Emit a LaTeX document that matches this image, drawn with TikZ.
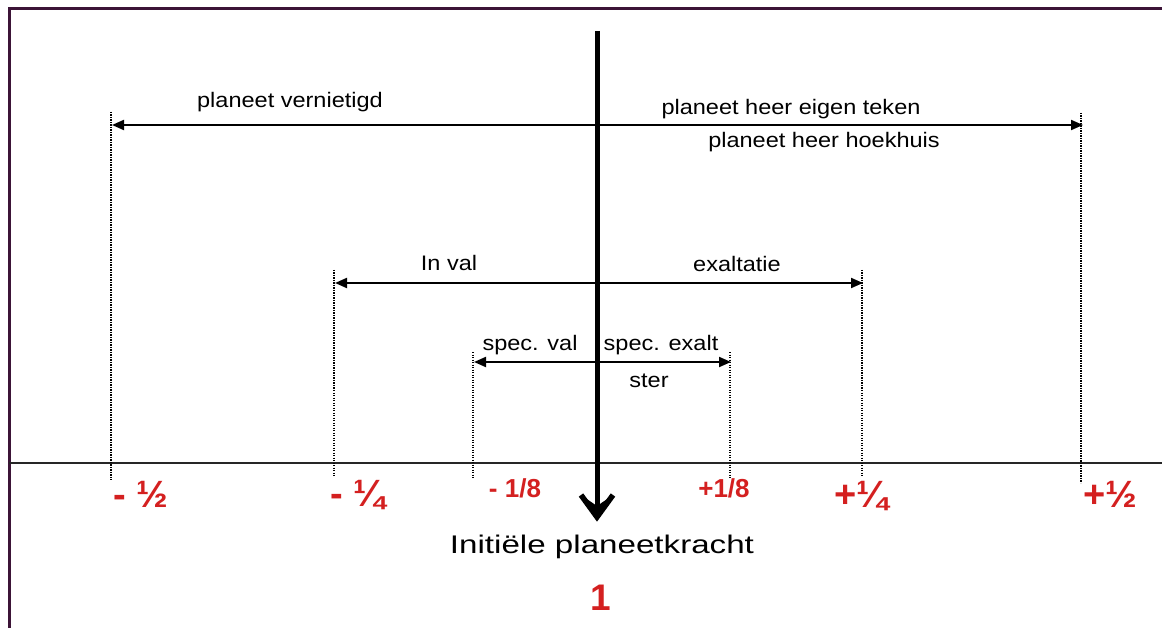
\documentclass[tikz,border=0pt]{standalone}
\usepackage{fontspec}
\setmainfont{Liberation Sans}
\newfontfamily\lblfont[FakeStretch=1.12]{Liberation Sans}
\newfontfamily\bigfont[FakeStretch=1.3]{Liberation Sans}
\usetikzlibrary{arrows.meta}
\definecolor{framecol}{RGB}{60,20,55}
\definecolor{redlbl}{RGB}{212,32,32}
\begin{document}
\begin{tikzpicture}[x=1pt,y=-1pt,
  lbl/.style={inner sep=0pt, anchor=base, font=\lblfont\fontsize{21}{24}\selectfont},
  redfr/.style={inner sep=0pt, anchor=base, text=redlbl, font=\bfseries\fontsize{38}{40}\selectfont},
  redsm/.style={inner sep=0pt, anchor=base, text=redlbl, font=\bfseries\fontsize{26}{30}\selectfont},
  dimarrow/.style={line width=2pt, {Triangle[length=12pt,width=10pt]}-{Triangle[length=12pt,width=10pt]}},
  guide/.style={line width=1.2pt, dash pattern=on 1.2pt off 1.3pt},
  mainshaft/.style={line width=5pt},
  mainhead/.style={line width=5.5pt, line join=miter, miter limit=10},
  frameline/.style={framecol, line width=3pt},
  axisline/.style={line width=2pt, black!85},
]
\useasboundingbox (0,0) rectangle (1162,628);
\fill[white] (0,0) rectangle (1162,628);

% frame
\coordinate (fBL) at (9,628);
\coordinate (fTL) at (9,9);
\coordinate (fTR) at (1162,9);
\draw[frameline] (fBL) -- (fTL) -- (fTR);

% axis
\coordinate (axL) at (9,463);
\coordinate (axR) at (1162,463);
\draw[axisline] (axL) -- (axR);

% dotted guides
\coordinate (g1t) at (111,112); \coordinate (g1b) at (111,480);
\coordinate (g2t) at (1081,113); \coordinate (g2b) at (1081,483);
\coordinate (g3t) at (334,270); \coordinate (g3b) at (334,477);
\coordinate (g4t) at (862,270); \coordinate (g4b) at (862,476);
\coordinate (g5t) at (473,352); \coordinate (g5b) at (473,478);
\coordinate (g6t) at (730,352); \coordinate (g6b) at (730,478);
\foreach \g in {1,...,6} {\draw[guide] (g\g t) -- (g\g b);}

% double arrows
\coordinate (a1L) at (112,125); \coordinate (a1R) at (1083,125);
\coordinate (a2L) at (335,283); \coordinate (a2R) at (863,283);
\coordinate (a3L) at (474,362); \coordinate (a3R) at (731,362);
\draw[dimarrow] (a1L) -- (a1R);
\draw[dimarrow] (a2L) -- (a2R);
\draw[dimarrow] (a3L) -- (a3R);

% main vertical arrow
\coordinate (vt) at (597,31);
\coordinate (vb) at (597,517);
\coordinate (hl) at (581,495);
\coordinate (hr) at (613,495);
\draw[mainshaft] (vt) -- (vb);
\draw[mainhead] (hl) -- (vb) -- (hr);
\fill (hl) -- (vb) -- (hr) -- (597,506) -- cycle;

% labels
\node[lbl] (tvern) at (290,108) {planeet vernietigd};
\node[lbl] (teigen) at (791,115) {planeet heer eigen teken};
\node[lbl] (thoek) at (824,148) {planeet heer hoekhuis};
\node[lbl] (tinval) at (449,271) {In val};
\node[lbl] (texalt) at (737,272) {exaltatie};
\node[lbl] (tsval) at (530,350) {spec. val};
\node[lbl] (tsexalt) at (661,350) {spec. exalt};
\node[lbl] (tster) at (649,387) {ster};

% red values
\node[redfr] (mhalf) at (141,507) {- ½};
\node[redfr] (mquart) at (358,506) {- ¼};
\node[redsm] (meighth) at (515,497) {- 1/8};
\node[redsm] (peighth) at (724,497) {+1/8};
\node[redfr] (pquart) at (861,507) {+¼};
\node[redfr] (phalf) at (1110,507) {+½};

% bottom text
\node[anchor=base, inner sep=0pt, font=\bigfont\fontsize{25.5}{30}\selectfont] (init) at (602,553) {Initiële planeetkracht};
\node[anchor=base, inner sep=0pt, text=redlbl, font=\bfseries\fontsize{37}{40}\selectfont] (one) at (601,610) {1};
\end{tikzpicture}
\end{document}
